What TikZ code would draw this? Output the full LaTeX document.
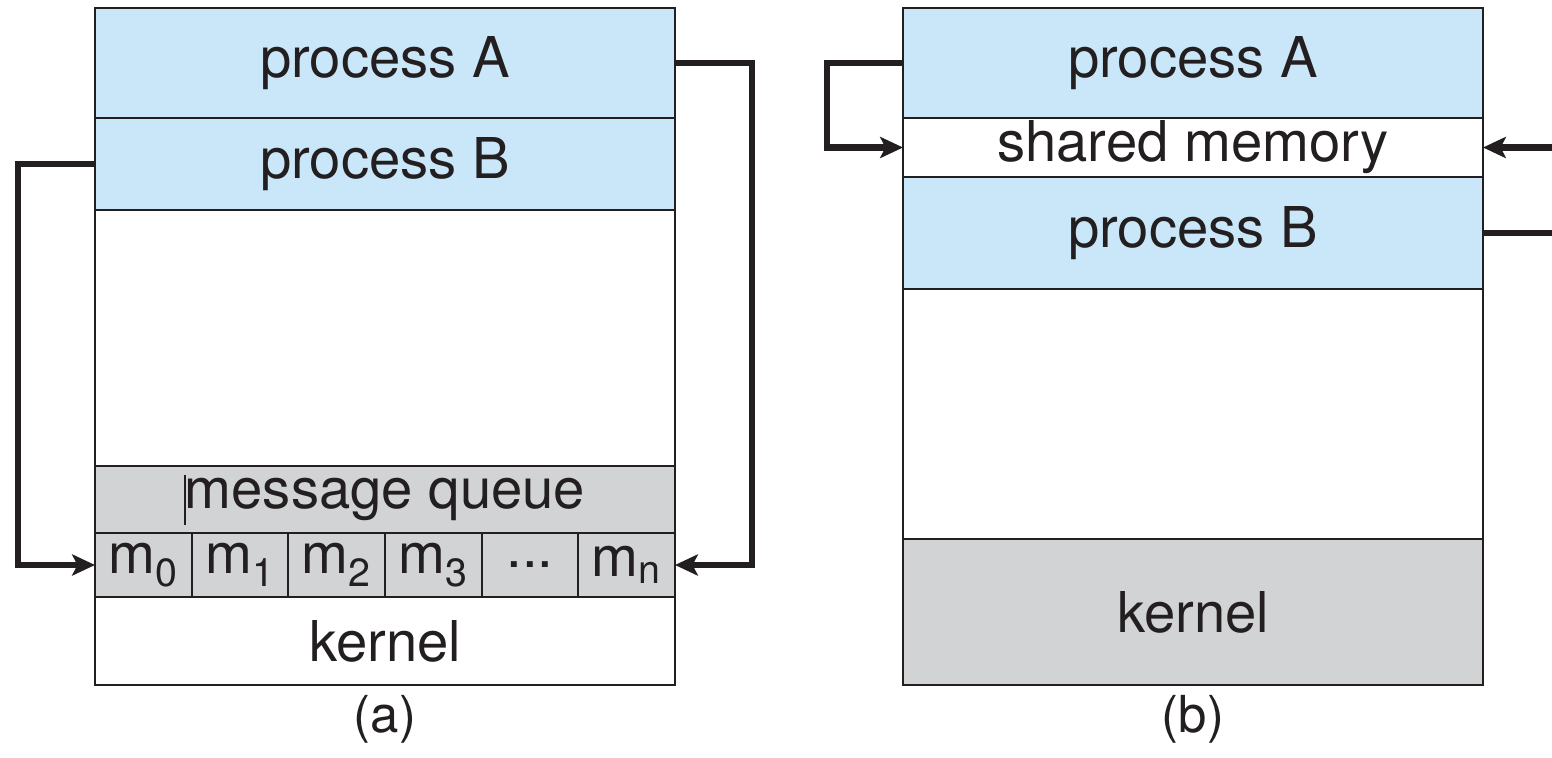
\documentclass[tikz,border=0pt]{standalone}
\usepackage{fontspec}
\setmainfont{TeX Gyre Heros}
\usetikzlibrary{positioning}
\usetikzlibrary{arrows.meta}
\definecolor{procblue}{RGB}{201,231,248}
\definecolor{kerngray}{RGB}{209,211,212}
\definecolor{inkgray}{RGB}{35,31,32}
\tikzset{mem box/.style={rectangle,draw=inkgray,line width=1pt,minimum width=11.6cm,inner sep=0pt,outer sep=0pt,text=inkgray,font=\fontsize{32}{38}\selectfont},}
\tikzset{process box/.style={mem box,fill=procblue},}
\tikzset{gray box/.style={mem box,fill=kerngray},}
\tikzset{msg cell/.style={gray box,minimum width=1.9333cm,minimum height=1.28cm},}
\tikzset{panel label/.style={text=inkgray,font=\fontsize{29}{35}\selectfont},}
\tikzset{ipc line/.style={draw=inkgray,line width=3.5pt},}
\tikzset{ipc arrow/.style={ipc line,-{Stealth[length=13pt,width=12pt,inset=3pt]}},}

\begin{document}
\begin{tikzpicture}
     \useasboundingbox (0,0) rectangle (31.04,-15.16);

     % (a) message passing
     \node[process box, minimum height=2.2cm, anchor=north] (aA) at (7.7,-0.16) {process A};
     \node[process box, minimum height=1.84cm] (aB) [below = 0pt of aA] {process B};
     \node[mem box, minimum height=5.12cm] (aFree) [below = 0pt of aB] {};
     \node[gray box, minimum height=1.34cm] (mq) [below = 0pt of aFree] {message queue};
     \node[msg cell, anchor=north west] (m0) at (mq.south west) {m\textsubscript{0}};
     \node[msg cell] (m1) [right = 0pt of m0] {m\textsubscript{1}};
     \node[msg cell] (m2) [right = 0pt of m1] {m\textsubscript{2}};
     \node[msg cell] (m3) [right = 0pt of m2] {m\textsubscript{3}};
     \node[msg cell] (mdots) [right = 0pt of m3] {...};
     \node[msg cell] (mn) [right = 0pt of mdots] {m\textsubscript{n}};
     \node[mem box, minimum height=1.76cm, anchor=north] (aK) at (mq.south |- m0.south) {kernel};
     \draw[inkgray, line width=0.6pt] ([xshift=-4cm,yshift=0.5cm]mq.center) -- ++(0,-1.0);
     \node[panel label] (capA) at (7.7,-14.38) {(a)};

     % (b) shared memory
     \node[process box, minimum height=2.2cm, anchor=north] (bA) at (23.86,-0.16) {process A};
     \node[mem box, minimum height=1.18cm] (bS) [below = 0pt of bA] {shared memory};
     \node[process box, minimum height=2.24cm] (bB) [below = 0pt of bS] {process B};
     \node[mem box, minimum height=5.0cm] (bFree) [below = 0pt of bB] {};
     \node[gray box, minimum height=2.92cm] (bK) [below = 0pt of bFree] {kernel};
     \node[panel label] (capB) at (23.86,-14.38) {(b)};

     \coordinate (edgeR) at (31.04,0);

     \path[ipc arrow]
     (aA.east) -- ++(1.54,0) |- (mn.east);
     \path[ipc arrow]
     (aB.west) -- ++(-1.54,0) |- (m0.west);
     \path[ipc arrow]
     (bA.west) -- ++(-1.52,0) |- (bS.west);
     \path[ipc arrow]
     (bS.east -| edgeR) -- (bS.east);
     \path[ipc line]
     (bB.east) -- (bB.east -| edgeR);
  \end{tikzpicture}
\end{document}
